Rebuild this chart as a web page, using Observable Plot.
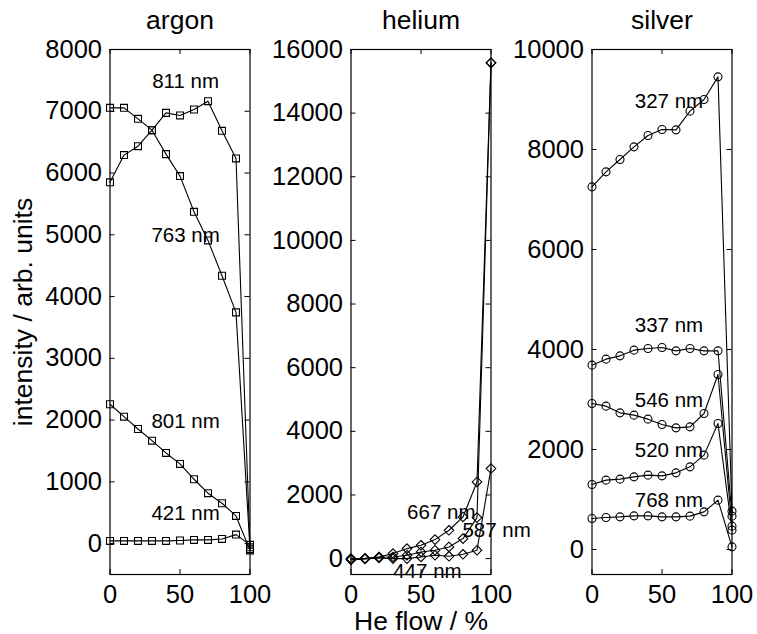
<!DOCTYPE html>
<html><head><meta charset="utf-8">
<script src="https://cdn.jsdelivr.net/npm/d3@7"></script>
<script src="https://cdn.jsdelivr.net/npm/@observablehq/plot@0.6"></script>
<style>
body{margin:0;background:#fff;}
#chart{position:relative;width:757px;height:634px;background:#fff;overflow:hidden;}
#chart svg{position:absolute;top:0;}
</style></head><body><div id="chart"></div>
<script>
// x values (He flow, %)
const heFlow = [0,10,20,30,40,50,60,70,80,90,100];
const xTicks = [0,50,100];

// argon (squares)
const argonSeries = ["811 nm","763 nm","801 nm","421 nm"];
const argon811 = [5850,6290,6435,6694,6974,6932,7029,7163,6683,6236,-60];
const argon763 = [7055,7055,6877,6694,6306,5950,5372,4909,4337,3744,-90];
const argon801 = [2256,2055,1856,1667,1468,1290,1042,816,654,448,-110];
const argon421 = [44,44,44,44,44,50,60,60,76,146,-20];
const argonLabelX = [54,54,54,54];
const argonLabelY = [7476,4984,1974,492];
const argonYTicks = [0,1000,2000,3000,4000,5000,6000,7000,8000];

// helium (diamonds)
const heliumSeries = ["667 nm","587 nm","447 nm"];
const helium667 = [0,10,50,157,314,419,597,890,1309,2408,15580];
const helium587 = [-20,0,40,52,105,209,262,367,629,1288,15580];
const helium447 = [-40,-10,20,0,0,52,105,73,136,262,2830];
const heliumLabelX = [64.5,104,54.6];
const heliumLabelY = [1465,890,-390];
const heliumYTicks = [0,2000,4000,6000,8000,10000,12000,14000,16000];

// silver (circles)
const silverSeries = ["327 nm","337 nm","546 nm","520 nm","768 nm"];
const silver327 = [7253,7553,7800,8053,8280,8400,8393,8767,9000,9453,767];
const silver337 = [3687,3807,3873,3987,4020,4040,3973,4020,3973,3973,667];
const silver546 = [2920,2867,2733,2687,2607,2500,2433,2453,2720,3500,467];
const silver520 = [1300,1387,1407,1453,1487,1473,1533,1653,1887,2520,387];
const silver768 = [620,640,653,673,673,653,653,667,753,987,53];
const silverLabelX = [55,55,55,55,55];
const silverLabelY = [8966,4487,2987,1973,987];
const silverYTicks = [0,2000,4000,6000,8000,10000];

const FONT = '"Liberation Sans", Arial, Helvetica, sans-serif';

function panel(cfg) {
  const {title, series, values, symbol, r, labelX, labelY, yDomain, yTicks, extra = []} = cfg;
  const rows = [];
  series.forEach((s, i) => values[i].forEach((v, j) => rows.push({series: s, x: heFlow[j], y: v})));
  const labels = series.map((s, i) => ({text: s, x: labelX[i], y: labelY[i]}));
  const W = 257, H = 634, ML = 109.5, MR = 7.5, MT = 49, MB = 60;
  const fw = W - ML - MR, fh = H - MT - MB, tk = 5;
  return Plot.plot({
    width: W, height: H,
    marginLeft: ML, marginRight: MR, marginTop: MT, marginBottom: MB,
    style: {background: "transparent", overflow: "visible", fontFamily: FONT, fontSize: "25.5px", color: "black"},
    x: {domain: [0, 100], ticks: xTicks, tickSize: 0, tickPadding: 10.5, tickFormat: d3.format("d"), label: null},
    y: {domain: yDomain, ticks: yTicks, tickSize: 0, tickPadding: 8, tickFormat: d3.format("d"), label: null},
    marks: [
      Plot.tickY(yTicks, {y: d => d, insetRight: fw - tk, stroke: "black"}),
      Plot.tickY(yTicks, {y: d => d, insetLeft: fw - tk, stroke: "black"}),
      Plot.tickX(xTicks, {x: d => d, insetTop: fh - tk, stroke: "black"}),
      Plot.tickX(xTicks, {x: d => d, insetBottom: fh - tk, stroke: "black"}),
      Plot.frame({stroke: "black", strokeWidth: 1.2}),
      Plot.line(rows, {x: "x", y: "y", z: "series", stroke: "black", strokeWidth: 1.1}),
      Plot.dot(rows, {x: "x", y: "y", symbol, r, fill: "none", stroke: "black", strokeWidth: 1.1}),
      Plot.text(labels, {x: "x", y: "y", text: "text", fontSize: 20.5, fontFamily: FONT, fill: "black"}),
      Plot.text([title], {frameAnchor: "top", textAnchor: "middle", lineAnchor: "bottom", dy: -21, fontSize: 26.5, fontFamily: FONT, fill: "black"}),
      ...extra
    ]
  });
}

const chart = document.getElementById("chart");

const p1 = panel({
  title: "argon", series: argonSeries, values: [argon811, argon763, argon801, argon421],
  symbol: "square", r: 3.9, labelX: argonLabelX, labelY: argonLabelY,
  yDomain: [-500, 8000], yTicks: argonYTicks,
  extra: [Plot.text(["intensity / arb. units"], {frameAnchor: "left", textAnchor: "middle", rotate: -90, lineAnchor: "bottom", dx: -78.5, fontSize: 26.5, fontFamily: FONT, fill: "black"})]
});
p1.style.left = "0px";
chart.appendChild(p1);

const p2 = panel({
  title: "helium", series: heliumSeries, values: [helium667, helium587, helium447],
  symbol: "diamond2", r: 4.3, labelX: heliumLabelX, labelY: heliumLabelY,
  yDomain: [-500, 16000], yTicks: heliumYTicks,
  extra: [Plot.text(["He flow / %"], {frameAnchor: "bottom", textAnchor: "middle", lineAnchor: "bottom", dy: 55, fontSize: 26.5, fontFamily: FONT, fill: "black"})]
});
p2.style.left = "241px";
chart.appendChild(p2);

const p3 = panel({
  title: "silver", series: silverSeries, values: [silver327, silver337, silver546, silver520, silver768],
  symbol: "circle", r: 4, labelX: silverLabelX, labelY: silverLabelY,
  yDomain: [-500, 10000], yTicks: silverYTicks
});
p3.style.left = "482px";
chart.appendChild(p3);
</script>
</body></html>
